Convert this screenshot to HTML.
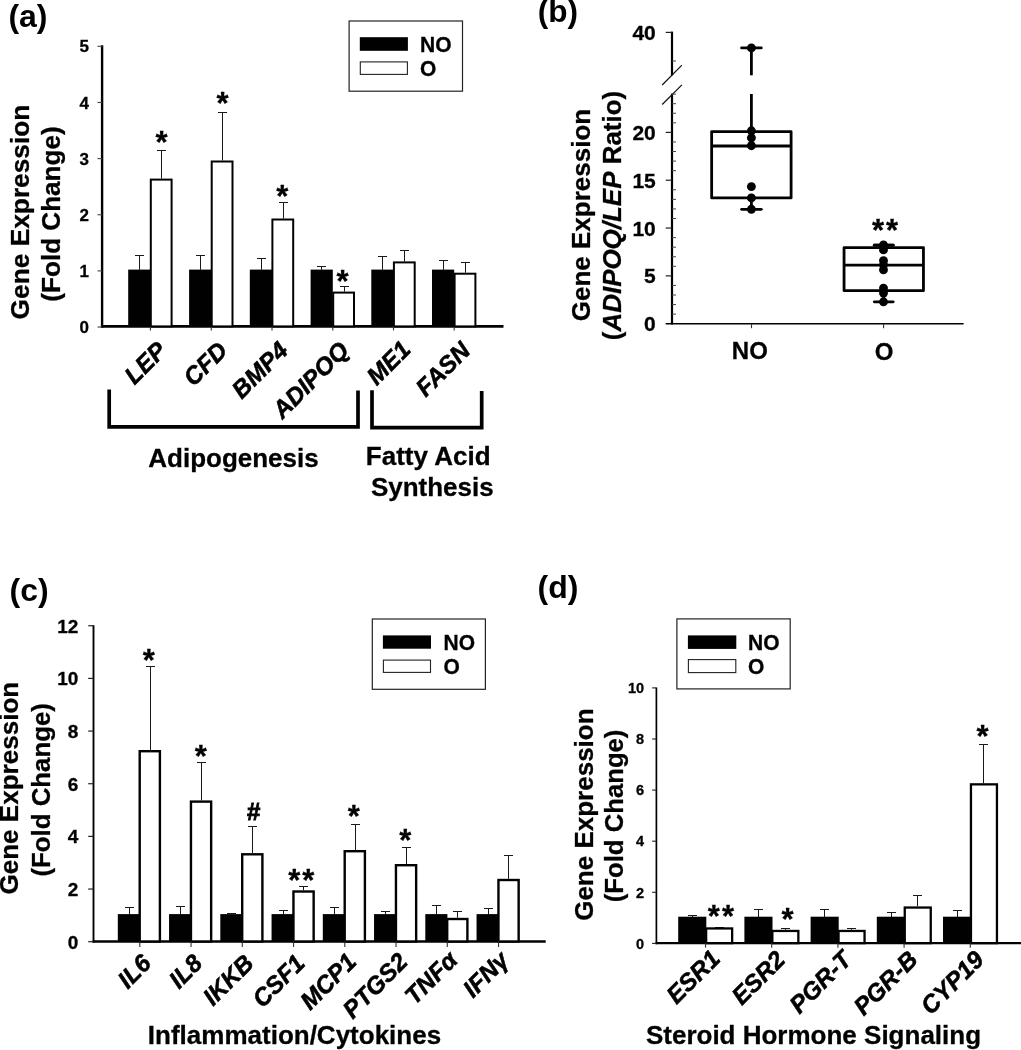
<!DOCTYPE html>
<html><head><meta charset="utf-8"><title>Figure</title>
<style>
html,body{margin:0;padding:0;background:#fff;}
body{width:1021px;height:1050px;overflow:hidden;font-family:"Liberation Sans",sans-serif;}
svg{display:block;}
svg text{font-family:"Liberation Sans",sans-serif;fill:#000;stroke:#000;stroke-width:0.3px;}
</style></head><body>
<svg width="1021" height="1050" viewBox="0 0 1021 1050">
<rect width="1021" height="1050" fill="#fff"/>
<g opacity="0.999">
<text x="8.40" y="26.60" font-size="32" font-weight="bold" font-style="normal" text-anchor="start" style="stroke-width:0">(a)</text>
<line x1="102.10" y1="45.30" x2="102.10" y2="327.80" stroke="#000" stroke-width="2.4" stroke-linecap="butt"/>
<line x1="100.90" y1="326.40" x2="503.50" y2="326.40" stroke="#000" stroke-width="2.8" stroke-linecap="butt"/>
<line x1="97.50" y1="327.05" x2="102.10" y2="327.05" stroke="#444" stroke-width="1.1" stroke-linecap="butt"/>
<text x="89.00" y="333.15" font-size="17" font-weight="bold" font-style="normal" text-anchor="end" >0</text>
<line x1="97.50" y1="270.90" x2="102.10" y2="270.90" stroke="#444" stroke-width="1.1" stroke-linecap="butt"/>
<text x="89.00" y="277.00" font-size="17" font-weight="bold" font-style="normal" text-anchor="end" >1</text>
<line x1="97.50" y1="214.75" x2="102.10" y2="214.75" stroke="#444" stroke-width="1.1" stroke-linecap="butt"/>
<text x="89.00" y="220.85" font-size="17" font-weight="bold" font-style="normal" text-anchor="end" >2</text>
<line x1="97.50" y1="158.60" x2="102.10" y2="158.60" stroke="#444" stroke-width="1.1" stroke-linecap="butt"/>
<text x="89.00" y="164.70" font-size="17" font-weight="bold" font-style="normal" text-anchor="end" >3</text>
<line x1="97.50" y1="102.45" x2="102.10" y2="102.45" stroke="#444" stroke-width="1.1" stroke-linecap="butt"/>
<text x="89.00" y="108.55" font-size="17" font-weight="bold" font-style="normal" text-anchor="end" >4</text>
<line x1="97.50" y1="46.30" x2="102.10" y2="46.30" stroke="#444" stroke-width="1.1" stroke-linecap="butt"/>
<text x="89.00" y="52.40" font-size="17" font-weight="bold" font-style="normal" text-anchor="end" >5</text>
<text x="28.90" y="212.00" font-size="26.3" font-weight="bold" font-style="normal" text-anchor="middle" transform="rotate(-90 28.90 212.00)" >Gene Expression</text>
<text x="60.30" y="214.00" font-size="26.1" font-weight="bold" font-style="normal" text-anchor="middle" transform="rotate(-90 60.30 214.00)" >(Fold Change)</text>
<line x1="139.50" y1="269.80" x2="139.50" y2="255.00" stroke="#1a1a1a" stroke-width="1" stroke-linecap="butt"/>
<line x1="135.00" y1="255.50" x2="144.00" y2="255.50" stroke="#1a1a1a" stroke-width="1" stroke-linecap="butt"/>
<line x1="161.50" y1="178.60" x2="161.50" y2="150.00" stroke="#1a1a1a" stroke-width="1" stroke-linecap="butt"/>
<line x1="157.00" y1="150.50" x2="166.00" y2="150.50" stroke="#1a1a1a" stroke-width="1" stroke-linecap="butt"/>
<rect x="128.20" y="269.60" width="22.20" height="56.80" fill="#000" stroke="none" stroke-width="0"/>
<rect x="150.80" y="179.60" width="20.80" height="146.80" fill="#fff" stroke="#000" stroke-width="2"/>
<line x1="150.40" y1="326.40" x2="150.40" y2="330.40" stroke="#333" stroke-width="1.1" stroke-linecap="butt"/>
<line x1="200.50" y1="269.80" x2="200.50" y2="255.00" stroke="#1a1a1a" stroke-width="1" stroke-linecap="butt"/>
<line x1="196.00" y1="255.50" x2="205.00" y2="255.50" stroke="#1a1a1a" stroke-width="1" stroke-linecap="butt"/>
<line x1="222.50" y1="160.50" x2="222.50" y2="112.00" stroke="#1a1a1a" stroke-width="1" stroke-linecap="butt"/>
<line x1="218.00" y1="112.50" x2="227.00" y2="112.50" stroke="#1a1a1a" stroke-width="1" stroke-linecap="butt"/>
<rect x="189.10" y="269.60" width="22.20" height="56.80" fill="#000" stroke="none" stroke-width="0"/>
<rect x="211.70" y="161.50" width="20.80" height="164.90" fill="#fff" stroke="#000" stroke-width="2"/>
<line x1="211.30" y1="326.40" x2="211.30" y2="330.40" stroke="#333" stroke-width="1.1" stroke-linecap="butt"/>
<line x1="261.50" y1="269.80" x2="261.50" y2="258.00" stroke="#1a1a1a" stroke-width="1" stroke-linecap="butt"/>
<line x1="257.00" y1="258.50" x2="266.00" y2="258.50" stroke="#1a1a1a" stroke-width="1" stroke-linecap="butt"/>
<line x1="283.50" y1="218.50" x2="283.50" y2="202.00" stroke="#1a1a1a" stroke-width="1" stroke-linecap="butt"/>
<line x1="279.00" y1="202.50" x2="288.00" y2="202.50" stroke="#1a1a1a" stroke-width="1" stroke-linecap="butt"/>
<rect x="249.80" y="269.60" width="22.20" height="56.80" fill="#000" stroke="none" stroke-width="0"/>
<rect x="272.40" y="219.50" width="20.80" height="106.90" fill="#fff" stroke="#000" stroke-width="2"/>
<line x1="272.00" y1="326.40" x2="272.00" y2="330.40" stroke="#333" stroke-width="1.1" stroke-linecap="butt"/>
<line x1="321.50" y1="269.80" x2="321.50" y2="266.00" stroke="#1a1a1a" stroke-width="1" stroke-linecap="butt"/>
<line x1="317.00" y1="266.50" x2="326.00" y2="266.50" stroke="#1a1a1a" stroke-width="1" stroke-linecap="butt"/>
<line x1="344.50" y1="291.60" x2="344.50" y2="286.00" stroke="#1a1a1a" stroke-width="1" stroke-linecap="butt"/>
<line x1="340.00" y1="286.50" x2="349.00" y2="286.50" stroke="#1a1a1a" stroke-width="1" stroke-linecap="butt"/>
<rect x="310.60" y="269.60" width="22.20" height="56.80" fill="#000" stroke="none" stroke-width="0"/>
<rect x="333.20" y="292.60" width="20.80" height="33.80" fill="#fff" stroke="#000" stroke-width="2"/>
<line x1="332.80" y1="326.40" x2="332.80" y2="330.40" stroke="#333" stroke-width="1.1" stroke-linecap="butt"/>
<line x1="382.50" y1="269.80" x2="382.50" y2="256.00" stroke="#1a1a1a" stroke-width="1" stroke-linecap="butt"/>
<line x1="378.00" y1="256.50" x2="387.00" y2="256.50" stroke="#1a1a1a" stroke-width="1" stroke-linecap="butt"/>
<line x1="404.50" y1="261.40" x2="404.50" y2="250.00" stroke="#1a1a1a" stroke-width="1" stroke-linecap="butt"/>
<line x1="400.00" y1="250.50" x2="409.00" y2="250.50" stroke="#1a1a1a" stroke-width="1" stroke-linecap="butt"/>
<rect x="371.30" y="269.60" width="22.20" height="56.80" fill="#000" stroke="none" stroke-width="0"/>
<rect x="393.90" y="262.40" width="20.80" height="64.00" fill="#fff" stroke="#000" stroke-width="2"/>
<line x1="393.50" y1="326.40" x2="393.50" y2="330.40" stroke="#333" stroke-width="1.1" stroke-linecap="butt"/>
<line x1="443.50" y1="269.80" x2="443.50" y2="260.00" stroke="#1a1a1a" stroke-width="1" stroke-linecap="butt"/>
<line x1="439.00" y1="260.50" x2="448.00" y2="260.50" stroke="#1a1a1a" stroke-width="1" stroke-linecap="butt"/>
<line x1="465.50" y1="272.70" x2="465.50" y2="262.00" stroke="#1a1a1a" stroke-width="1" stroke-linecap="butt"/>
<line x1="461.00" y1="262.50" x2="470.00" y2="262.50" stroke="#1a1a1a" stroke-width="1" stroke-linecap="butt"/>
<rect x="432.00" y="269.60" width="22.20" height="56.80" fill="#000" stroke="none" stroke-width="0"/>
<rect x="454.60" y="273.70" width="20.80" height="52.70" fill="#fff" stroke="#000" stroke-width="2"/>
<line x1="454.20" y1="326.40" x2="454.20" y2="330.40" stroke="#333" stroke-width="1.1" stroke-linecap="butt"/>
<text x="161.60" y="152.80" font-size="31" font-weight="bold" font-style="normal" text-anchor="middle" >*</text>
<text x="222.60" y="114.40" font-size="31" font-weight="bold" font-style="normal" text-anchor="middle" >*</text>
<text x="282.20" y="206.80" font-size="31" font-weight="bold" font-style="normal" text-anchor="middle" >*</text>
<text x="342.60" y="292.00" font-size="31" font-weight="bold" font-style="normal" text-anchor="middle" >*</text>
<rect x="349.10" y="21.00" width="113.40" height="70.20" fill="#fff" stroke="#222" stroke-width="1.2"/>
<rect x="359.80" y="37.20" width="48.10" height="13.60" fill="#000" stroke="none" stroke-width="0"/>
<rect x="360.30" y="61.90" width="47.10" height="12.50" fill="#fff" stroke="#222" stroke-width="1.1"/>
<text transform="translate(420.00 51.80) scale(1 1.07)" font-size="21" font-weight="bold">NO</text>
<text transform="translate(420.00 75.90) scale(1 1.07)" font-size="21" font-weight="bold">O</text>
<text x="167.90" y="352.00" font-size="24.3" font-weight="bold" font-style="italic" text-anchor="end" transform="rotate(-45 167.90 352.00)" style="stroke-width:0.55px">LEP</text>
<text x="228.80" y="352.00" font-size="24.3" font-weight="bold" font-style="italic" text-anchor="end" transform="rotate(-45 228.80 352.00)" style="stroke-width:0.55px">CFD</text>
<text x="289.50" y="352.00" font-size="24.3" font-weight="bold" font-style="italic" text-anchor="end" transform="rotate(-45 289.50 352.00)" style="stroke-width:0.55px">BMP4</text>
<text x="350.30" y="352.00" font-size="24.3" font-weight="bold" font-style="italic" text-anchor="end" transform="rotate(-45 350.30 352.00)" style="stroke-width:0.55px">ADIPOQ</text>
<text x="412.00" y="351.00" font-size="24.3" font-weight="bold" font-style="italic" text-anchor="end" transform="rotate(-45 412.00 351.00)" style="stroke-width:0.55px">ME1</text>
<text x="471.70" y="352.00" font-size="24.3" font-weight="bold" font-style="italic" text-anchor="end" transform="rotate(-45 471.70 352.00)" style="stroke-width:0.55px">FASN</text>
<path d="M109.2 389.5 V426.9 H358 V390.6" fill="none" stroke="#000" stroke-width="3.7" stroke-linejoin="miter"/>
<path d="M372 390.3 V427.6 H481.7 V390.9" fill="none" stroke="#000" stroke-width="3.7" stroke-linejoin="miter"/>
<text x="233.50" y="467.00" font-size="26" font-weight="bold" font-style="normal" text-anchor="middle" >Adipogenesis</text>
<text x="428.20" y="465.00" font-size="26" font-weight="bold" font-style="normal" text-anchor="middle" >Fatty Acid</text>
<text x="432.30" y="496.00" font-size="26" font-weight="bold" font-style="normal" text-anchor="middle" >Synthesis</text>
<text x="537.80" y="22.40" font-size="31.6" font-weight="bold" font-style="normal" text-anchor="start" style="stroke-width:0">(b)</text>
<line x1="672.00" y1="31.60" x2="672.00" y2="75.50" stroke="#000" stroke-width="2.2" stroke-linecap="butt"/>
<line x1="672.00" y1="93.60" x2="672.00" y2="324.50" stroke="#000" stroke-width="2.2" stroke-linecap="butt"/>
<line x1="665.70" y1="323.70" x2="963.60" y2="323.70" stroke="#000" stroke-width="1.6" stroke-linecap="butt"/>
<line x1="662.20" y1="85.00" x2="681.90" y2="65.20" stroke="#111" stroke-width="1.2" stroke-linecap="butt"/>
<line x1="662.20" y1="104.50" x2="681.90" y2="84.80" stroke="#111" stroke-width="1.2" stroke-linecap="butt"/>
<line x1="665.70" y1="32.40" x2="672.00" y2="32.40" stroke="#222" stroke-width="1.2" stroke-linecap="butt"/>
<text x="655.80" y="39.90" font-size="21" font-weight="bold" font-style="normal" text-anchor="end" >40</text>
<line x1="672.00" y1="61.00" x2="676.00" y2="61.00" stroke="#444" stroke-width="1" stroke-linecap="butt"/>
<line x1="672.00" y1="314.13" x2="676.00" y2="314.13" stroke="#444" stroke-width="1" stroke-linecap="butt"/>
<line x1="672.00" y1="304.57" x2="676.00" y2="304.57" stroke="#444" stroke-width="1" stroke-linecap="butt"/>
<line x1="672.00" y1="295.00" x2="676.00" y2="295.00" stroke="#444" stroke-width="1" stroke-linecap="butt"/>
<line x1="672.00" y1="285.44" x2="676.00" y2="285.44" stroke="#444" stroke-width="1" stroke-linecap="butt"/>
<line x1="665.70" y1="275.88" x2="672.00" y2="275.88" stroke="#222" stroke-width="1.2" stroke-linecap="butt"/>
<line x1="672.00" y1="266.31" x2="676.00" y2="266.31" stroke="#444" stroke-width="1" stroke-linecap="butt"/>
<line x1="672.00" y1="256.75" x2="676.00" y2="256.75" stroke="#444" stroke-width="1" stroke-linecap="butt"/>
<line x1="672.00" y1="247.18" x2="676.00" y2="247.18" stroke="#444" stroke-width="1" stroke-linecap="butt"/>
<line x1="672.00" y1="237.62" x2="676.00" y2="237.62" stroke="#444" stroke-width="1" stroke-linecap="butt"/>
<line x1="665.70" y1="228.05" x2="672.00" y2="228.05" stroke="#222" stroke-width="1.2" stroke-linecap="butt"/>
<line x1="672.00" y1="218.49" x2="676.00" y2="218.49" stroke="#444" stroke-width="1" stroke-linecap="butt"/>
<line x1="672.00" y1="208.92" x2="676.00" y2="208.92" stroke="#444" stroke-width="1" stroke-linecap="butt"/>
<line x1="672.00" y1="199.35" x2="676.00" y2="199.35" stroke="#444" stroke-width="1" stroke-linecap="butt"/>
<line x1="672.00" y1="189.79" x2="676.00" y2="189.79" stroke="#444" stroke-width="1" stroke-linecap="butt"/>
<line x1="665.70" y1="180.22" x2="672.00" y2="180.22" stroke="#222" stroke-width="1.2" stroke-linecap="butt"/>
<line x1="672.00" y1="170.66" x2="676.00" y2="170.66" stroke="#444" stroke-width="1" stroke-linecap="butt"/>
<line x1="672.00" y1="161.09" x2="676.00" y2="161.09" stroke="#444" stroke-width="1" stroke-linecap="butt"/>
<line x1="672.00" y1="151.53" x2="676.00" y2="151.53" stroke="#444" stroke-width="1" stroke-linecap="butt"/>
<line x1="672.00" y1="141.97" x2="676.00" y2="141.97" stroke="#444" stroke-width="1" stroke-linecap="butt"/>
<line x1="665.70" y1="132.40" x2="672.00" y2="132.40" stroke="#222" stroke-width="1.2" stroke-linecap="butt"/>
<line x1="672.00" y1="122.84" x2="676.00" y2="122.84" stroke="#444" stroke-width="1" stroke-linecap="butt"/>
<line x1="672.00" y1="113.27" x2="676.00" y2="113.27" stroke="#444" stroke-width="1" stroke-linecap="butt"/>
<line x1="672.00" y1="103.71" x2="676.00" y2="103.71" stroke="#444" stroke-width="1" stroke-linecap="butt"/>
<line x1="672.00" y1="94.14" x2="676.00" y2="94.14" stroke="#444" stroke-width="1" stroke-linecap="butt"/>
<text x="655.80" y="331.20" font-size="21" font-weight="bold" font-style="normal" text-anchor="end" >0</text>
<text x="655.80" y="283.38" font-size="21" font-weight="bold" font-style="normal" text-anchor="end" >5</text>
<text x="655.80" y="235.55" font-size="21" font-weight="bold" font-style="normal" text-anchor="end" >10</text>
<text x="655.80" y="187.72" font-size="21" font-weight="bold" font-style="normal" text-anchor="end" >15</text>
<text x="655.80" y="139.90" font-size="21" font-weight="bold" font-style="normal" text-anchor="end" >20</text>
<text x="589.60" y="215.00" font-size="26" font-weight="bold" font-style="normal" text-anchor="middle" transform="rotate(-90 589.60 215.00)" >Gene Expression</text>
<text x="620.6" y="215.5" font-size="25.95" font-weight="bold" text-anchor="middle" transform="rotate(-90 620.6 215.5)">(<tspan font-style="italic">ADIPOQ/LEP</tspan> Ratio)</text>
<line x1="751.4" y1="47.9" x2="751.4" y2="75.3" stroke="#000" stroke-width="2.8"/>
<line x1="751.4" y1="94" x2="751.4" y2="131" stroke="#000" stroke-width="2.8"/>
<line x1="741.60" y1="47.90" x2="761.30" y2="47.90" stroke="#000" stroke-width="2.8" stroke-linecap="round"/>
<line x1="751.40" y1="198.00" x2="751.40" y2="209.30" stroke="#000" stroke-width="2.8" stroke-linecap="butt"/>
<line x1="741.60" y1="209.30" x2="761.30" y2="209.30" stroke="#000" stroke-width="2.8" stroke-linecap="round"/>
<rect x="711.65" y="131.6" width="79.45" height="66.3" fill="#fff" stroke="#000" stroke-width="2.8" stroke-linejoin="round"/>
<line x1="711.65" y1="146.00" x2="791.10" y2="146.00" stroke="#000" stroke-width="2.8" stroke-linecap="butt"/>
<circle cx="751.4" cy="47.9" r="4.45" fill="#000"/>
<circle cx="751.4" cy="130.8" r="4.45" fill="#000"/>
<circle cx="751.4" cy="137.8" r="4.45" fill="#000"/>
<circle cx="751.4" cy="145.7" r="4.45" fill="#000"/>
<circle cx="751.4" cy="186.6" r="4.45" fill="#000"/>
<circle cx="751.4" cy="197.9" r="4.45" fill="#000"/>
<circle cx="751.4" cy="209.3" r="4.45" fill="#000"/>
<line x1="874.30" y1="245.20" x2="893.20" y2="245.20" stroke="#000" stroke-width="2.8" stroke-linecap="round"/>
<line x1="883.50" y1="291.00" x2="883.50" y2="301.80" stroke="#000" stroke-width="2.8" stroke-linecap="butt"/>
<line x1="874.30" y1="301.85" x2="893.20" y2="301.85" stroke="#000" stroke-width="2.8" stroke-linecap="round"/>
<rect x="844.05" y="247.55" width="79.4" height="43.1" fill="#fff" stroke="#000" stroke-width="2.8" stroke-linejoin="round"/>
<line x1="874.30" y1="245.20" x2="893.20" y2="245.20" stroke="#000" stroke-width="2.8" stroke-linecap="round"/>
<line x1="844.05" y1="265.05" x2="923.45" y2="265.05" stroke="#000" stroke-width="2.8" stroke-linecap="butt"/>
<circle cx="883.5" cy="245" r="4.45" fill="#000"/>
<circle cx="883.5" cy="249.9" r="4.45" fill="#000"/>
<circle cx="883.5" cy="260.6" r="4.45" fill="#000"/>
<circle cx="883.5" cy="264.9" r="4.45" fill="#000"/>
<circle cx="883.5" cy="269.8" r="4.45" fill="#000"/>
<circle cx="883.5" cy="288.1" r="4.45" fill="#000"/>
<circle cx="883.5" cy="293" r="4.45" fill="#000"/>
<circle cx="883.5" cy="301.8" r="4.45" fill="#000"/>
<text x="886.00" y="240.80" font-size="31" font-weight="bold" font-style="normal" text-anchor="middle" letter-spacing="2">**</text>
<line x1="751.50" y1="323.70" x2="751.50" y2="328.20" stroke="#333" stroke-width="1.1" stroke-linecap="butt"/>
<line x1="883.60" y1="323.70" x2="883.60" y2="328.20" stroke="#333" stroke-width="1.1" stroke-linecap="butt"/>
<text x="749.80" y="358.60" font-size="24" font-weight="bold" font-style="normal" text-anchor="middle" >NO</text>
<text x="884.20" y="359.50" font-size="24" font-weight="bold" font-style="normal" text-anchor="middle" >O</text>
<text x="9.60" y="600.80" font-size="32" font-weight="bold" font-style="normal" text-anchor="start" style="stroke-width:0">(c)</text>
<line x1="93.50" y1="625.14" x2="93.50" y2="942.80" stroke="#000" stroke-width="1.9" stroke-linecap="butt"/>
<line x1="92.60" y1="941.50" x2="545.70" y2="941.50" stroke="#000" stroke-width="2.7" stroke-linecap="butt"/>
<line x1="88.20" y1="941.70" x2="93.50" y2="941.70" stroke="#222" stroke-width="1.2" stroke-linecap="butt"/>
<text x="78.40" y="948.50" font-size="19" font-weight="bold" font-style="normal" text-anchor="end" >0</text>
<line x1="88.20" y1="889.04" x2="93.50" y2="889.04" stroke="#222" stroke-width="1.2" stroke-linecap="butt"/>
<text x="78.40" y="895.84" font-size="19" font-weight="bold" font-style="normal" text-anchor="end" >2</text>
<line x1="88.20" y1="836.38" x2="93.50" y2="836.38" stroke="#222" stroke-width="1.2" stroke-linecap="butt"/>
<text x="78.40" y="843.18" font-size="19" font-weight="bold" font-style="normal" text-anchor="end" >4</text>
<line x1="88.20" y1="783.72" x2="93.50" y2="783.72" stroke="#222" stroke-width="1.2" stroke-linecap="butt"/>
<text x="78.40" y="790.52" font-size="19" font-weight="bold" font-style="normal" text-anchor="end" >6</text>
<line x1="88.20" y1="731.06" x2="93.50" y2="731.06" stroke="#222" stroke-width="1.2" stroke-linecap="butt"/>
<text x="78.40" y="737.86" font-size="19" font-weight="bold" font-style="normal" text-anchor="end" >8</text>
<line x1="88.20" y1="678.40" x2="93.50" y2="678.40" stroke="#222" stroke-width="1.2" stroke-linecap="butt"/>
<text x="78.40" y="685.20" font-size="19" font-weight="bold" font-style="normal" text-anchor="end" >10</text>
<line x1="88.20" y1="625.74" x2="93.50" y2="625.74" stroke="#222" stroke-width="1.2" stroke-linecap="butt"/>
<text x="78.40" y="632.54" font-size="19" font-weight="bold" font-style="normal" text-anchor="end" >12</text>
<text x="18.20" y="788.20" font-size="26.05" font-weight="bold" font-style="normal" text-anchor="middle" transform="rotate(-90 18.20 788.20)" >Gene Expression</text>
<text x="50.40" y="789.80" font-size="25.8" font-weight="bold" font-style="normal" text-anchor="middle" transform="rotate(-90 50.40 789.80)" >(Fold Change)</text>
<line x1="129.50" y1="914.50" x2="129.50" y2="907.00" stroke="#1a1a1a" stroke-width="1" stroke-linecap="butt"/>
<line x1="125.00" y1="907.50" x2="134.00" y2="907.50" stroke="#1a1a1a" stroke-width="1" stroke-linecap="butt"/>
<line x1="150.50" y1="750.00" x2="150.50" y2="666.00" stroke="#1a1a1a" stroke-width="1" stroke-linecap="butt"/>
<line x1="146.00" y1="666.50" x2="155.00" y2="666.50" stroke="#1a1a1a" stroke-width="1" stroke-linecap="butt"/>
<rect x="117.80" y="914.10" width="22.10" height="27.40" fill="#000" stroke="none" stroke-width="0"/>
<rect x="139.70" y="751.20" width="20.20" height="190.30" fill="#fff" stroke="#000" stroke-width="2.4"/>
<line x1="139.80" y1="941.50" x2="139.80" y2="947.00" stroke="#333" stroke-width="1.1" stroke-linecap="butt"/>
<line x1="180.50" y1="914.50" x2="180.50" y2="906.00" stroke="#1a1a1a" stroke-width="1" stroke-linecap="butt"/>
<line x1="176.00" y1="906.50" x2="185.00" y2="906.50" stroke="#1a1a1a" stroke-width="1" stroke-linecap="butt"/>
<line x1="201.50" y1="800.40" x2="201.50" y2="762.00" stroke="#1a1a1a" stroke-width="1" stroke-linecap="butt"/>
<line x1="197.00" y1="762.50" x2="206.00" y2="762.50" stroke="#1a1a1a" stroke-width="1" stroke-linecap="butt"/>
<rect x="169.05" y="914.10" width="22.10" height="27.40" fill="#000" stroke="none" stroke-width="0"/>
<rect x="190.95" y="801.60" width="20.20" height="139.90" fill="#fff" stroke="#000" stroke-width="2.4"/>
<line x1="191.05" y1="941.50" x2="191.05" y2="947.00" stroke="#333" stroke-width="1.1" stroke-linecap="butt"/>
<line x1="231.50" y1="914.50" x2="231.50" y2="913.00" stroke="#1a1a1a" stroke-width="1" stroke-linecap="butt"/>
<line x1="227.00" y1="913.50" x2="236.00" y2="913.50" stroke="#1a1a1a" stroke-width="1" stroke-linecap="butt"/>
<line x1="252.50" y1="853.10" x2="252.50" y2="826.00" stroke="#1a1a1a" stroke-width="1" stroke-linecap="butt"/>
<line x1="248.00" y1="826.50" x2="257.00" y2="826.50" stroke="#1a1a1a" stroke-width="1" stroke-linecap="butt"/>
<rect x="220.30" y="914.10" width="22.10" height="27.40" fill="#000" stroke="none" stroke-width="0"/>
<rect x="242.20" y="854.30" width="20.20" height="87.20" fill="#fff" stroke="#000" stroke-width="2.4"/>
<line x1="242.30" y1="941.50" x2="242.30" y2="947.00" stroke="#333" stroke-width="1.1" stroke-linecap="butt"/>
<line x1="283.50" y1="914.50" x2="283.50" y2="910.00" stroke="#1a1a1a" stroke-width="1" stroke-linecap="butt"/>
<line x1="279.00" y1="910.50" x2="288.00" y2="910.50" stroke="#1a1a1a" stroke-width="1" stroke-linecap="butt"/>
<line x1="303.50" y1="890.30" x2="303.50" y2="886.00" stroke="#1a1a1a" stroke-width="1" stroke-linecap="butt"/>
<line x1="299.00" y1="886.50" x2="308.00" y2="886.50" stroke="#1a1a1a" stroke-width="1" stroke-linecap="butt"/>
<rect x="271.55" y="914.10" width="22.10" height="27.40" fill="#000" stroke="none" stroke-width="0"/>
<rect x="293.45" y="891.50" width="20.20" height="50.00" fill="#fff" stroke="#000" stroke-width="2.4"/>
<line x1="293.55" y1="941.50" x2="293.55" y2="947.00" stroke="#333" stroke-width="1.1" stroke-linecap="butt"/>
<line x1="334.50" y1="914.50" x2="334.50" y2="907.00" stroke="#1a1a1a" stroke-width="1" stroke-linecap="butt"/>
<line x1="330.00" y1="907.50" x2="339.00" y2="907.50" stroke="#1a1a1a" stroke-width="1" stroke-linecap="butt"/>
<line x1="355.50" y1="850.00" x2="355.50" y2="824.00" stroke="#1a1a1a" stroke-width="1" stroke-linecap="butt"/>
<line x1="351.00" y1="824.50" x2="360.00" y2="824.50" stroke="#1a1a1a" stroke-width="1" stroke-linecap="butt"/>
<rect x="322.80" y="914.10" width="22.10" height="27.40" fill="#000" stroke="none" stroke-width="0"/>
<rect x="344.70" y="851.20" width="20.20" height="90.30" fill="#fff" stroke="#000" stroke-width="2.4"/>
<line x1="344.80" y1="941.50" x2="344.80" y2="947.00" stroke="#333" stroke-width="1.1" stroke-linecap="butt"/>
<line x1="385.50" y1="914.50" x2="385.50" y2="911.00" stroke="#1a1a1a" stroke-width="1" stroke-linecap="butt"/>
<line x1="381.00" y1="911.50" x2="390.00" y2="911.50" stroke="#1a1a1a" stroke-width="1" stroke-linecap="butt"/>
<line x1="406.50" y1="864.00" x2="406.50" y2="847.00" stroke="#1a1a1a" stroke-width="1" stroke-linecap="butt"/>
<line x1="402.00" y1="847.50" x2="411.00" y2="847.50" stroke="#1a1a1a" stroke-width="1" stroke-linecap="butt"/>
<rect x="374.05" y="914.10" width="22.10" height="27.40" fill="#000" stroke="none" stroke-width="0"/>
<rect x="395.95" y="865.20" width="20.20" height="76.30" fill="#fff" stroke="#000" stroke-width="2.4"/>
<line x1="396.05" y1="941.50" x2="396.05" y2="947.00" stroke="#333" stroke-width="1.1" stroke-linecap="butt"/>
<line x1="436.50" y1="914.50" x2="436.50" y2="905.00" stroke="#1a1a1a" stroke-width="1" stroke-linecap="butt"/>
<line x1="432.00" y1="905.50" x2="441.00" y2="905.50" stroke="#1a1a1a" stroke-width="1" stroke-linecap="butt"/>
<line x1="457.50" y1="917.80" x2="457.50" y2="911.00" stroke="#1a1a1a" stroke-width="1" stroke-linecap="butt"/>
<line x1="453.00" y1="911.50" x2="462.00" y2="911.50" stroke="#1a1a1a" stroke-width="1" stroke-linecap="butt"/>
<rect x="425.30" y="914.10" width="22.10" height="27.40" fill="#000" stroke="none" stroke-width="0"/>
<rect x="447.20" y="919.00" width="20.20" height="22.50" fill="#fff" stroke="#000" stroke-width="2.4"/>
<line x1="447.30" y1="941.50" x2="447.30" y2="947.00" stroke="#333" stroke-width="1.1" stroke-linecap="butt"/>
<line x1="488.50" y1="914.50" x2="488.50" y2="908.00" stroke="#1a1a1a" stroke-width="1" stroke-linecap="butt"/>
<line x1="484.00" y1="908.50" x2="493.00" y2="908.50" stroke="#1a1a1a" stroke-width="1" stroke-linecap="butt"/>
<line x1="508.50" y1="878.80" x2="508.50" y2="855.00" stroke="#1a1a1a" stroke-width="1" stroke-linecap="butt"/>
<line x1="504.00" y1="855.50" x2="513.00" y2="855.50" stroke="#1a1a1a" stroke-width="1" stroke-linecap="butt"/>
<rect x="476.55" y="914.10" width="22.10" height="27.40" fill="#000" stroke="none" stroke-width="0"/>
<rect x="498.45" y="880.00" width="20.20" height="61.50" fill="#fff" stroke="#000" stroke-width="2.4"/>
<line x1="498.55" y1="941.50" x2="498.55" y2="947.00" stroke="#333" stroke-width="1.1" stroke-linecap="butt"/>
<text x="148.70" y="670.80" font-size="31" font-weight="bold" font-style="normal" text-anchor="middle" >*</text>
<text x="200.70" y="766.80" font-size="31" font-weight="bold" font-style="normal" text-anchor="middle" >*</text>
<text x="302.20" y="890.80" font-size="31" font-weight="bold" font-style="normal" text-anchor="middle" letter-spacing="2">**</text>
<text x="353.90" y="827.30" font-size="31" font-weight="bold" font-style="normal" text-anchor="middle" >*</text>
<text x="405.40" y="851.30" font-size="31" font-weight="bold" font-style="normal" text-anchor="middle" >*</text>
<text x="253.70" y="820.00" font-size="24" font-weight="bold" font-style="normal" text-anchor="middle" style="stroke-width:0.8px">#</text>
<rect x="372.30" y="619.00" width="113.10" height="70.30" fill="#fff" stroke="#222" stroke-width="1.2"/>
<rect x="382.90" y="635.40" width="48.10" height="13.30" fill="#000" stroke="none" stroke-width="0"/>
<rect x="383.40" y="660.10" width="47.10" height="12.30" fill="#fff" stroke="#222" stroke-width="1.1"/>
<text transform="translate(443.50 649.70) scale(1 1.07)" font-size="21" font-weight="bold">NO</text>
<text transform="translate(443.50 673.90) scale(1 1.07)" font-size="21" font-weight="bold">O</text>
<text x="152.60" y="964.80" font-size="24.3" font-weight="bold" font-style="italic" text-anchor="end" transform="rotate(-45 152.60 964.80)" style="stroke-width:0.55px">IL6</text>
<text x="203.85" y="964.80" font-size="24.3" font-weight="bold" font-style="italic" text-anchor="end" transform="rotate(-45 203.85 964.80)" style="stroke-width:0.55px">IL8</text>
<text x="255.10" y="964.80" font-size="24.3" font-weight="bold" font-style="italic" text-anchor="end" transform="rotate(-45 255.10 964.80)" style="stroke-width:0.55px">IKKB</text>
<text x="306.35" y="964.80" font-size="24.3" font-weight="bold" font-style="italic" text-anchor="end" transform="rotate(-45 306.35 964.80)" style="stroke-width:0.55px">CSF1</text>
<text x="357.90" y="963.30" font-size="24.3" font-weight="bold" font-style="italic" text-anchor="end" transform="rotate(-45 357.90 963.30)" style="stroke-width:0.55px">MCP1</text>
<text x="409.15" y="963.30" font-size="24.3" font-weight="bold" font-style="italic" text-anchor="end" transform="rotate(-45 409.15 963.30)" style="stroke-width:0.55px">PTGS2</text>
<text x="458.90" y="961.60" font-size="24.3" font-weight="bold" font-style="italic" text-anchor="end" transform="rotate(-45 458.90 961.60)" style="stroke-width:0.55px">TNF&#945;</text>
<text x="510.15" y="961.60" font-size="24.3" font-weight="bold" font-style="italic" text-anchor="end" transform="rotate(-45 510.15 961.60)" style="stroke-width:0.55px">IFN&#947;</text>
<text x="294.50" y="1044.00" font-size="26" font-weight="bold" font-style="normal" text-anchor="middle" >Inflammation/Cytokines</text>
<text x="537.60" y="598.30" font-size="32" font-weight="bold" font-style="normal" text-anchor="start" style="stroke-width:0">(d)</text>
<line x1="656.40" y1="687.40" x2="656.40" y2="944.15" stroke="#000" stroke-width="1.7" stroke-linecap="butt"/>
<line x1="655.60" y1="943.15" x2="1021.00" y2="943.15" stroke="#000" stroke-width="2.1" stroke-linecap="butt"/>
<line x1="652.10" y1="943.40" x2="656.40" y2="943.40" stroke="#222" stroke-width="1.1" stroke-linecap="butt"/>
<text x="644.10" y="948.60" font-size="14.5" font-weight="bold" font-style="normal" text-anchor="end" >0</text>
<line x1="652.10" y1="892.30" x2="656.40" y2="892.30" stroke="#222" stroke-width="1.1" stroke-linecap="butt"/>
<text x="644.10" y="897.50" font-size="14.5" font-weight="bold" font-style="normal" text-anchor="end" >2</text>
<line x1="652.10" y1="841.20" x2="656.40" y2="841.20" stroke="#222" stroke-width="1.1" stroke-linecap="butt"/>
<text x="644.10" y="846.40" font-size="14.5" font-weight="bold" font-style="normal" text-anchor="end" >4</text>
<line x1="652.10" y1="790.10" x2="656.40" y2="790.10" stroke="#222" stroke-width="1.1" stroke-linecap="butt"/>
<text x="644.10" y="795.30" font-size="14.5" font-weight="bold" font-style="normal" text-anchor="end" >6</text>
<line x1="652.10" y1="739.00" x2="656.40" y2="739.00" stroke="#222" stroke-width="1.1" stroke-linecap="butt"/>
<text x="644.10" y="744.20" font-size="14.5" font-weight="bold" font-style="normal" text-anchor="end" >8</text>
<line x1="652.10" y1="687.90" x2="656.40" y2="687.90" stroke="#222" stroke-width="1.1" stroke-linecap="butt"/>
<text x="644.10" y="693.10" font-size="14.5" font-weight="bold" font-style="normal" text-anchor="end" >10</text>
<text x="592.60" y="814.60" font-size="26" font-weight="bold" font-style="normal" text-anchor="middle" transform="rotate(-90 592.60 814.60)" >Gene Expression</text>
<text x="622.80" y="815.90" font-size="25.7" font-weight="bold" font-style="normal" text-anchor="middle" transform="rotate(-90 622.80 815.90)" >(Fold Change)</text>
<line x1="692.50" y1="917.00" x2="692.50" y2="915.00" stroke="#1a1a1a" stroke-width="1" stroke-linecap="butt"/>
<line x1="688.00" y1="915.50" x2="697.00" y2="915.50" stroke="#1a1a1a" stroke-width="1" stroke-linecap="butt"/>
<line x1="719.50" y1="927.30" x2="719.50" y2="927.00" stroke="#1a1a1a" stroke-width="1" stroke-linecap="butt"/>
<line x1="715.00" y1="927.50" x2="724.00" y2="927.50" stroke="#1a1a1a" stroke-width="1" stroke-linecap="butt"/>
<rect x="678.20" y="916.70" width="28.10" height="26.45" fill="#000" stroke="none" stroke-width="0"/>
<rect x="706.15" y="928.45" width="26.00" height="14.70" fill="#fff" stroke="#000" stroke-width="2.3"/>
<line x1="705.50" y1="943.15" x2="705.50" y2="947.65" stroke="#333" stroke-width="1.1" stroke-linecap="butt"/>
<line x1="758.50" y1="917.00" x2="758.50" y2="909.00" stroke="#1a1a1a" stroke-width="1" stroke-linecap="butt"/>
<line x1="754.00" y1="909.50" x2="763.00" y2="909.50" stroke="#1a1a1a" stroke-width="1" stroke-linecap="butt"/>
<line x1="785.50" y1="929.80" x2="785.50" y2="928.00" stroke="#1a1a1a" stroke-width="1" stroke-linecap="butt"/>
<line x1="781.00" y1="928.50" x2="790.00" y2="928.50" stroke="#1a1a1a" stroke-width="1" stroke-linecap="butt"/>
<rect x="744.40" y="916.70" width="28.10" height="26.45" fill="#000" stroke="none" stroke-width="0"/>
<rect x="772.35" y="930.95" width="26.00" height="12.20" fill="#fff" stroke="#000" stroke-width="2.3"/>
<line x1="771.70" y1="943.15" x2="771.70" y2="947.65" stroke="#333" stroke-width="1.1" stroke-linecap="butt"/>
<line x1="824.50" y1="917.00" x2="824.50" y2="909.00" stroke="#1a1a1a" stroke-width="1" stroke-linecap="butt"/>
<line x1="820.00" y1="909.50" x2="829.00" y2="909.50" stroke="#1a1a1a" stroke-width="1" stroke-linecap="butt"/>
<line x1="851.50" y1="929.80" x2="851.50" y2="928.00" stroke="#1a1a1a" stroke-width="1" stroke-linecap="butt"/>
<line x1="847.00" y1="928.50" x2="856.00" y2="928.50" stroke="#1a1a1a" stroke-width="1" stroke-linecap="butt"/>
<rect x="810.60" y="916.70" width="28.10" height="26.45" fill="#000" stroke="none" stroke-width="0"/>
<rect x="838.55" y="930.95" width="26.00" height="12.20" fill="#fff" stroke="#000" stroke-width="2.3"/>
<line x1="837.90" y1="943.15" x2="837.90" y2="947.65" stroke="#333" stroke-width="1.1" stroke-linecap="butt"/>
<line x1="891.50" y1="917.00" x2="891.50" y2="912.00" stroke="#1a1a1a" stroke-width="1" stroke-linecap="butt"/>
<line x1="887.00" y1="912.50" x2="896.00" y2="912.50" stroke="#1a1a1a" stroke-width="1" stroke-linecap="butt"/>
<line x1="917.50" y1="906.40" x2="917.50" y2="895.00" stroke="#1a1a1a" stroke-width="1" stroke-linecap="butt"/>
<line x1="913.00" y1="895.50" x2="922.00" y2="895.50" stroke="#1a1a1a" stroke-width="1" stroke-linecap="butt"/>
<rect x="876.80" y="916.70" width="28.10" height="26.45" fill="#000" stroke="none" stroke-width="0"/>
<rect x="904.75" y="907.55" width="26.00" height="35.60" fill="#fff" stroke="#000" stroke-width="2.3"/>
<line x1="904.10" y1="943.15" x2="904.10" y2="947.65" stroke="#333" stroke-width="1.1" stroke-linecap="butt"/>
<line x1="957.50" y1="917.00" x2="957.50" y2="910.00" stroke="#1a1a1a" stroke-width="1" stroke-linecap="butt"/>
<line x1="953.00" y1="910.50" x2="962.00" y2="910.50" stroke="#1a1a1a" stroke-width="1" stroke-linecap="butt"/>
<line x1="983.50" y1="783.20" x2="983.50" y2="744.00" stroke="#1a1a1a" stroke-width="1" stroke-linecap="butt"/>
<line x1="979.00" y1="744.50" x2="988.00" y2="744.50" stroke="#1a1a1a" stroke-width="1" stroke-linecap="butt"/>
<rect x="943.00" y="916.70" width="28.10" height="26.45" fill="#000" stroke="none" stroke-width="0"/>
<rect x="970.95" y="784.35" width="26.00" height="158.80" fill="#fff" stroke="#000" stroke-width="2.3"/>
<line x1="970.30" y1="943.15" x2="970.30" y2="947.65" stroke="#333" stroke-width="1.1" stroke-linecap="butt"/>
<text x="721.90" y="927.30" font-size="31" font-weight="bold" font-style="normal" text-anchor="middle" letter-spacing="2">**</text>
<text x="787.60" y="930.10" font-size="31" font-weight="bold" font-style="normal" text-anchor="middle" >*</text>
<text x="982.60" y="746.50" font-size="31" font-weight="bold" font-style="normal" text-anchor="middle" >*</text>
<rect x="676.90" y="618.90" width="113.30" height="70.00" fill="#fff" stroke="#222" stroke-width="1.2"/>
<rect x="687.90" y="635.40" width="48.40" height="13.50" fill="#000" stroke="none" stroke-width="0"/>
<rect x="688.40" y="659.60" width="47.40" height="13.00" fill="#fff" stroke="#222" stroke-width="1.1"/>
<text transform="translate(748.00 649.90) scale(1 1.07)" font-size="21" font-weight="bold">NO</text>
<text transform="translate(748.00 674.10) scale(1 1.07)" font-size="21" font-weight="bold">O</text>
<text x="721.50" y="960.20" font-size="24.3" font-weight="bold" font-style="italic" text-anchor="end" transform="rotate(-45 721.50 960.20)" style="stroke-width:0.55px">ESR1</text>
<text x="786.70" y="961.20" font-size="24.3" font-weight="bold" font-style="italic" text-anchor="end" transform="rotate(-45 786.70 961.20)" style="stroke-width:0.55px">ESR2</text>
<text x="852.90" y="961.20" font-size="24.3" font-weight="bold" font-style="italic" text-anchor="end" transform="rotate(-45 852.90 961.20)" style="stroke-width:0.55px">PGR-T</text>
<text x="919.10" y="961.20" font-size="24.3" font-weight="bold" font-style="italic" text-anchor="end" transform="rotate(-45 919.10 961.20)" style="stroke-width:0.55px">PGR-B</text>
<text x="985.30" y="961.20" font-size="24.3" font-weight="bold" font-style="italic" text-anchor="end" transform="rotate(-45 985.30 961.20)" style="stroke-width:0.55px">CYP19</text>
<text x="813.50" y="1043.70" font-size="26" font-weight="bold" font-style="normal" text-anchor="middle" >Steroid Hormone Signaling</text>
</g>
</svg>
</body></html>
